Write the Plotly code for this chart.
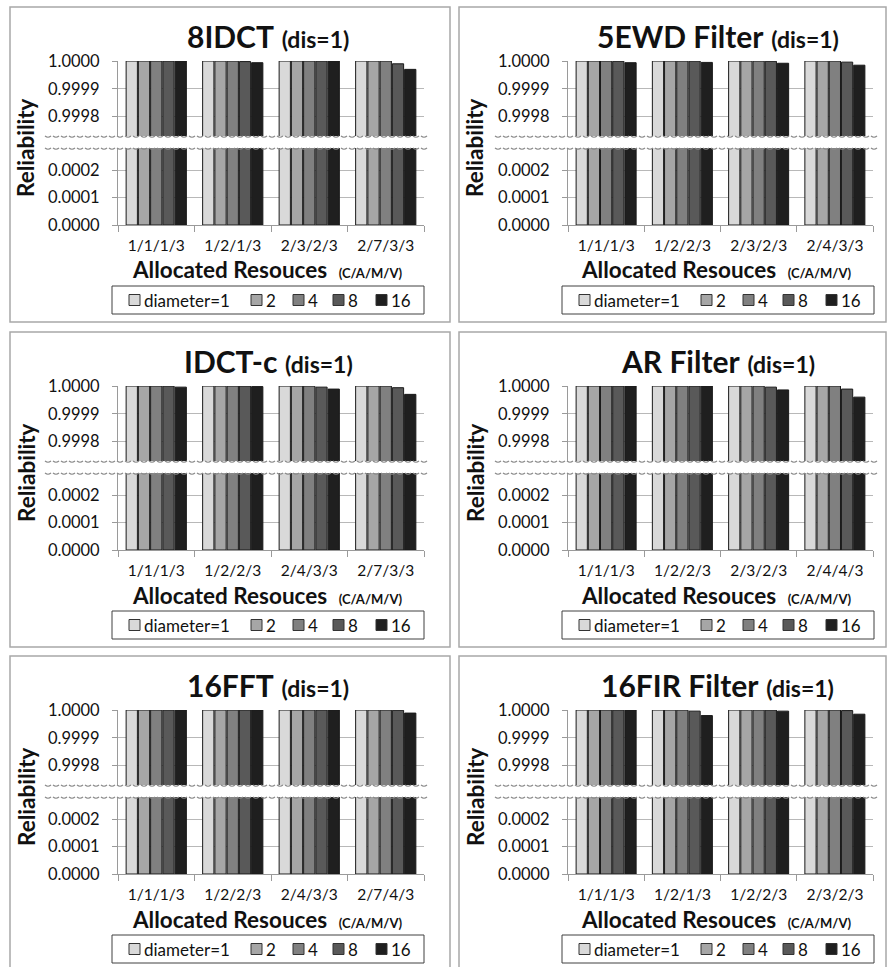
import plotly.graph_objects as go

W, H = 888, 967
FONT = "Lato"
TEXT = "#111111"

# Series (one entry per interconnect diameter) and their fills
diameters = ["diameter=1", "2", "4", "8", "16"]
bar_colors = ["#d9d9d9", "#a6a6a6", "#808080", "#595959", "#1f1f1f"]

# Benchmarks
titles = ["8IDCT", "5EWD Filter", "IDCT-c", "AR Filter", "16FFT", "16FIR Filter"]

# Allocated resources (C/A/M/V) per benchmark
cats_8idct = ["1/1/1/3", "1/2/1/3", "2/3/2/3", "2/7/3/3"]
cats_5ewd = ["1/1/1/3", "1/2/2/3", "2/3/2/3", "2/4/3/3"]
cats_idctc = ["1/1/1/3", "1/2/2/3", "2/4/3/3", "2/7/3/3"]
cats_ar = ["1/1/1/3", "1/2/2/3", "2/3/2/3", "2/4/4/3"]
cats_fft16 = ["1/1/1/3", "1/2/2/3", "2/4/3/3", "2/7/4/3"]
cats_fir16 = ["1/1/1/3", "1/2/1/3", "1/2/2/3", "2/3/2/3"]

# Reliability, rows = diameter 1, 2, 4, 8, 16
rel_8idct = [
    [1.0, 1.0, 1.0, 1.0],
    [1.0, 1.0, 1.0, 1.0],
    [1.0, 1.0, 1.0, 1.0],
    [1.0, 0.999998, 1.0, 0.99999],
    [1.0, 0.999994, 1.0, 0.99997],
]
rel_5ewd = [
    [1.0, 1.0, 1.0, 1.0],
    [1.0, 1.0, 1.0, 1.0],
    [1.0, 1.0, 1.0, 1.0],
    [0.999999, 1.0, 0.999999, 0.999996],
    [0.999994, 0.999995, 0.999992, 0.999985],
]
rel_idctc = [
    [1.0, 1.0, 1.0, 1.0],
    [1.0, 1.0, 1.0, 1.0],
    [1.0, 1.0, 1.0, 1.0],
    [1.0, 1.0, 0.999996, 0.999994],
    [0.999996, 0.999998, 0.999989, 0.99997],
]
rel_ar = [
    [1.0, 1.0, 1.0, 1.0],
    [1.0, 1.0, 1.0, 1.0],
    [1.0, 1.0, 1.0, 1.0],
    [1.0, 1.0, 0.999996, 0.999989],
    [1.0, 1.0, 0.999986, 0.99996],
]
rel_fft16 = [
    [1.0, 1.0, 1.0, 1.0],
    [1.0, 1.0, 1.0, 1.0],
    [1.0, 1.0, 1.0, 1.0],
    [1.0, 1.0, 1.0, 0.999999],
    [1.0, 1.0, 1.0, 0.999989],
]
rel_fir16 = [
    [1.0, 1.0, 1.0, 1.0],
    [1.0, 1.0, 1.0, 1.0],
    [1.0, 1.0, 1.0, 1.0],
    [1.0, 0.999996, 1.0, 0.999998],
    [1.0, 0.99998, 0.999996, 0.999985],
]

cats_all = [cats_8idct, cats_5ewd, cats_idctc, cats_ar, cats_fft16, cats_fir16]
rel_all = [rel_8idct, rel_5ewd, rel_idctc, rel_ar, rel_fft16, rel_fir16]

# Broken value axis: a high band near 1 and a low band near 0
hi_ticks = [0.9998, 0.9999, 1.0]
lo_ticks = [0.0, 0.0001, 0.0002]
hi_range = [0.99973, 1.0000001]
lo_range = [0.0, 0.00028]


def px(x):
    return x / W


def py(y):
    return 1 - y / H


# panel geometry (pixels)
plot_x = [(118, 424), (568, 873)]
frame_x = [(10, 450), (459, 886)]
row_top = [7, 332, 656]
# key box: left offset from plot, width, and where each swatch sits inside it
KEY_LEFT, KEY_W = -6, 312
KEY_SLOTS = [17, 139, 181, 221, 264]
SWATCH = 11

fig = go.Figure()
shapes = []
annotations = []
layout = {}

for k in range(6):
    r, c = divmod(k, 2)
    top = row_top[r]
    x0, x1 = plot_x[c]
    xc = (x0 + x1) / 2
    xname = "x" if k == 0 else f"x{k + 1}"
    lo_name = "y" if k == 0 else f"y{2 * k + 1}"
    hi_name = f"y{2 * k + 2}"

    for i in range(5):
        common = dict(
            x=cats_all[k],
            y=rel_all[k][i],
            name=diameters[i],
            marker=dict(color=bar_colors[i], line=dict(color="#1a1a1a", width=1)),
            xaxis=xname,
            showlegend=False,
            hoverinfo="x+y+name",
        )
        fig.add_trace(go.Bar(yaxis=lo_name, **common))
        fig.add_trace(go.Bar(yaxis=hi_name, **common))

    xkey = "xaxis" if k == 0 else f"xaxis{k + 1}"
    lokey = "yaxis" if k == 0 else f"yaxis{2 * k + 1}"
    hikey = f"yaxis{2 * k + 2}"

    layout[xkey] = dict(
        domain=[px(x0), px(x1)], anchor=lo_name, type="category",
        tickson="boundaries", ticks="outside", ticklen=6, tickcolor="#9a9a9a",
        showline=True, linecolor="#9a9a9a", showgrid=False, ticklabelstandoff=6,
        tickfont=dict(family=FONT, size=15.5, color=TEXT), fixedrange=True,
    )
    axis_common = dict(
        anchor=xname, showgrid=True, gridcolor="#b8b8b8", gridwidth=1,
        showline=True, linecolor="#9a9a9a", ticks="outside", ticklen=5,
        tickcolor="#9a9a9a", zeroline=False, fixedrange=True, ticklabelstandoff=9,
        tickfont=dict(family=FONT, size=16.5, color=TEXT),
    )
    layout[lokey] = dict(
        domain=[py(top + 218), py(top + 141)], range=lo_range,
        tickvals=lo_ticks, ticktext=[f"{v:.4f}" for v in lo_ticks], **axis_common,
    )
    layout[hikey] = dict(
        domain=[py(top + 129), py(top + 54)], range=hi_range,
        tickvals=hi_ticks, ticktext=[f"{v:.4f}" for v in hi_ticks], **axis_common,
    )

    # key box with one swatch + label per diameter series
    kx0 = x0 + KEY_LEFT
    ky0, ky1 = top + 279, top + 307
    kyc = (ky0 + ky1) / 2
    shapes.append(dict(
        type="rect", xref="paper", yref="paper",
        x0=px(kx0), x1=px(kx0 + KEY_W), y0=py(ky1), y1=py(ky0),
        line=dict(color="#404040", width=1), fillcolor="white",
    ))
    for i, name in enumerate(diameters):
        sx = kx0 + KEY_SLOTS[i]
        shapes.append(dict(
            type="rect", xref="paper", yref="paper",
            x0=px(sx), x1=px(sx + SWATCH),
            y0=py(kyc + SWATCH / 2), y1=py(kyc - SWATCH / 2),
            line=dict(color="#333333", width=1), fillcolor=bar_colors[i],
        ))
        annotations.append(dict(
            x=px(sx + SWATCH + 2), y=py(kyc + 0.5), xref="paper", yref="paper",
            xanchor="left", yanchor="middle", showarrow=False, text=name,
            font=dict(family=FONT, size=17, color=TEXT),
        ))

    # panel frame
    fx0, fx1 = frame_x[c]
    shapes.append(dict(
        type="rect", xref="paper", yref="paper",
        x0=px(fx0), x1=px(fx1), y0=py(min(top + 315, H + 5)), y1=py(top),
        line=dict(color="#a8a8a8", width=1.5), layer="below",
    ))

    # wavy edges of the axis break
    bx0, bx1 = x0 - 73, x1 + 4
    for yb in (top + 129, top + 141):
        segs = []
        xs = bx0
        while xs + 6 <= bx1:
            segs.append(
                f"M{px(xs):.5f},{py(yb):.5f} Q{px(xs + 3):.5f},{py(yb + 2.5):.5f} "
                f"{px(xs + 6):.5f},{py(yb):.5f}"
            )
            xs += 8
        shapes.append(dict(
            type="path", xref="paper", yref="paper", path=" ".join(segs),
            line=dict(color="#8a8a8a", width=1.2), layer="above",
        ))

    # panel title
    annotations.append(dict(
        x=px(xc - 3), y=py(top + 29), xref="paper", yref="paper",
        xanchor="center", yanchor="middle", showarrow=False,
        text=f"<b>{titles[k]}</b> <b><span style='font-size:23px'>(dis=1)</span></b>",
        font=dict(family=FONT, size=30, color=TEXT),
    ))
    # x title
    annotations.append(dict(
        x=px(xc - 4), y=py(top + 263), xref="paper", yref="paper",
        xanchor="center", yanchor="middle", showarrow=False,
        text="<b>Allocated Resouces</b>  <b><span style='font-size:13px'>(C/A/M/V)</span></b>",
        font=dict(family=FONT, size=22.5, color=TEXT),
    ))
    # y title
    annotations.append(dict(
        x=px(fx0 + 16), y=py(top + 141), xref="paper", yref="paper",
        xanchor="center", yanchor="middle", showarrow=False, textangle=-90,
        text="<b>Reliability</b>",
        font=dict(family=FONT, size=22.5, color=TEXT),
    ))

fig.update_layout(
    width=W, height=H,
    margin=dict(l=0, r=0, t=0, b=0, autoexpand=False),
    paper_bgcolor="white", plot_bgcolor="white",
    barmode="group", bargap=0.2, bargroupgap=0.08,
    font=dict(family=FONT, color=TEXT),
    shapes=shapes, annotations=annotations,
    showlegend=False,
    **layout,
)

fig.write_html("out.html", config={"displayModeBar": False})
